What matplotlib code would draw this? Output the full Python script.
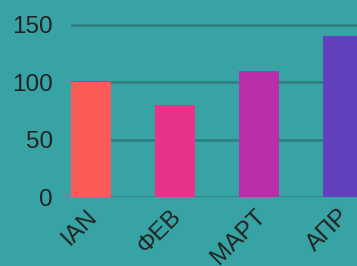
import matplotlib.pyplot as plt
from matplotlib.transforms import ScaledTranslation

months = ["IAN", "ΦEB", "MAPT", "AПР"]
values = [100, 80, 110, 140]
colors = ["#fc5a56", "#e8338a", "#b92fa9", "#6340be"]
yticks = [0, 50, 100, 150]

bg = "#38a3a4"
plt.rcParams['font.family'] = ['Liberation Sans', 'DejaVu Sans']

fig = plt.figure(figsize=(3.57, 2.66), dpi=100, facecolor=bg)
ax = fig.add_axes([71 / 357, 1 - 197 / 266, 286 / 357, (197 - 12) / 266])
ax.set_facecolor(bg)

x = range(len(months))
ax.bar(x, values, width=0.48, color=colors, zorder=3)

ax.set_xlim(-0.24, 3.165)
ax.set_ylim(0, 161)
ax.set_yticks(yticks)
ax.set_xticks(list(x))
ax.set_xticklabels(months, rotation=45, ha='right', va='top', rotation_mode='anchor')
ax.tick_params(axis='both', length=0, labelsize=17.5, colors="#222222")
ax.tick_params(axis='y', pad=13)
ax.tick_params(axis='x', pad=6)
shift = ScaledTranslation(-5 / 100, 0, fig.dpi_scale_trans)
for lbl in ax.get_xticklabels():
    lbl.set_transform(lbl.get_transform() + shift)
ax.grid(axis='y', color="#2e8182", linewidth=2, zorder=1)
ax.grid(axis='x', visible=False)
for s in ax.spines.values():
    s.set_visible(False)

fig.savefig("out.png", dpi=100, facecolor=bg)
